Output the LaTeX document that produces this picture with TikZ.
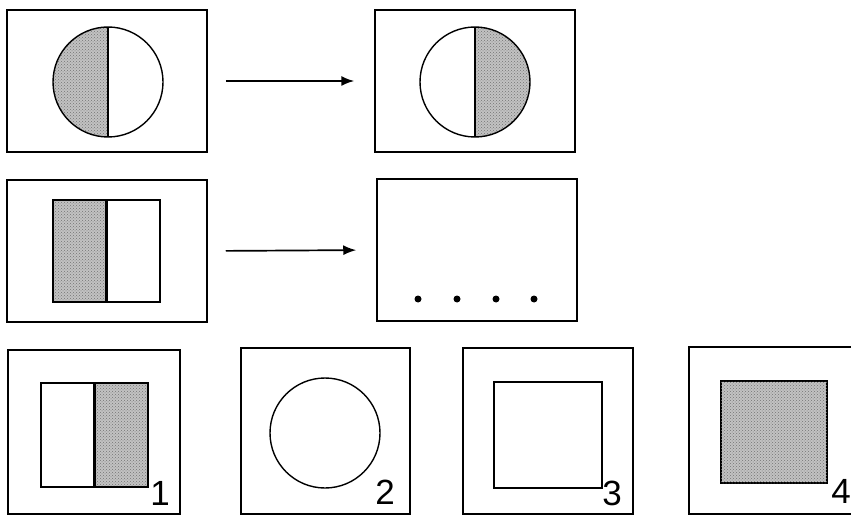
\documentclass[tikz,border=0pt]{standalone}
\usepackage{fontspec}
\setmainfont{Liberation Sans}
\usetikzlibrary{positioning, arrows.meta, patterns}

\begin{document}
\begin{tikzpicture}[x=1pt, y=-1pt,
  frame/.style={draw, line width=1.5pt, inner sep=0pt},
  fig/.style={draw, line width=1.4pt, inner sep=0pt},
  dotfill/.style={fill=black!24, postaction={pattern=crosshatch dots, pattern color=black!55}},
  leftshaded/.style={path picture={
      \fill[dotfill] (path picture bounding box.north west) rectangle (path picture bounding box.south);
      \draw[line width=2.6pt] (path picture bounding box.north) -- (path picture bounding box.south);}},
  rightshaded/.style={path picture={
      \fill[dotfill] (path picture bounding box.north) rectangle (path picture bounding box.south east);
      \draw[line width=2.6pt] (path picture bounding box.north) -- (path picture bounding box.south);}},
  num/.style={font=\fontsize{35}{35}\selectfont, inner sep=0pt},
  flow/.style={-{Latex[length=13pt, width=10pt]}, line width=1.7pt, shorten <=18pt, shorten >=20pt}]

  \useasboundingbox (0,0) rectangle (851,516);

  % first pair
  \node[frame, minimum width=200pt, minimum height=142pt] (f-a1) at (107,81) {};
  \node[frame, minimum width=200pt, minimum height=142pt] (f-a2) at (475,81) {};
  \node[fig, circle, minimum size=110pt, leftshaded] (c-a1) at (108,82) {};
  \node[fig, circle, minimum size=110pt, rightshaded] (c-a2) at (475,82) {};
  \draw[flow] (f-a1.east) -- (f-a2.west);

  % second pair
  \node[frame, minimum width=200pt, minimum height=142pt] (f-b1) at (107,251) {};
  \node[frame, minimum width=200pt, minimum height=142pt] (f-b2) at (477,250) {};
  \node[fig, minimum width=107pt, minimum height=102pt, leftshaded] (r-b1) at (106.5,251) {};
  \foreach \i/\x in {1/418, 2/457, 3/496, 4/534}
    \node[circle, fill=black, minimum size=7pt, inner sep=0pt] (dot-\i) at (\x,299) {};
  \draw[flow] (f-b1.east) -- (f-b2.west);

  % answers
  \node[frame, minimum width=172pt, minimum height=164pt] (f-c1) at (94,432) {};
  \node[frame, minimum width=169pt, minimum height=166pt] (f-c2) at (325.5,431) {};
  \node[frame, minimum width=170pt, minimum height=166pt] (f-c3) at (548,431) {};
  \node[frame, minimum width=180pt, minimum height=167pt] (f-c4) at (779,430.5) {};

  \node[fig, minimum width=107pt, minimum height=104pt, rightshaded] (r-c1) at (94.5,435) {};
  \node[fig, circle, minimum size=110pt] (c-c2) at (325,433) {};
  \node[fig, minimum width=108pt, minimum height=106pt] (r-c3) at (548,435) {};
  \node[fig, minimum width=106pt, minimum height=102pt, dotfill] (r-c4) at (774,432) {};

  \node[num] (lbl-1) at (160,493) {1};
  \node[num] (lbl-2) at (385,492) {2};
  \node[num] (lbl-3) at (612,493) {3};
  \node[num] (lbl-4) at (841,491) {4};

\end{tikzpicture}
\end{document}
